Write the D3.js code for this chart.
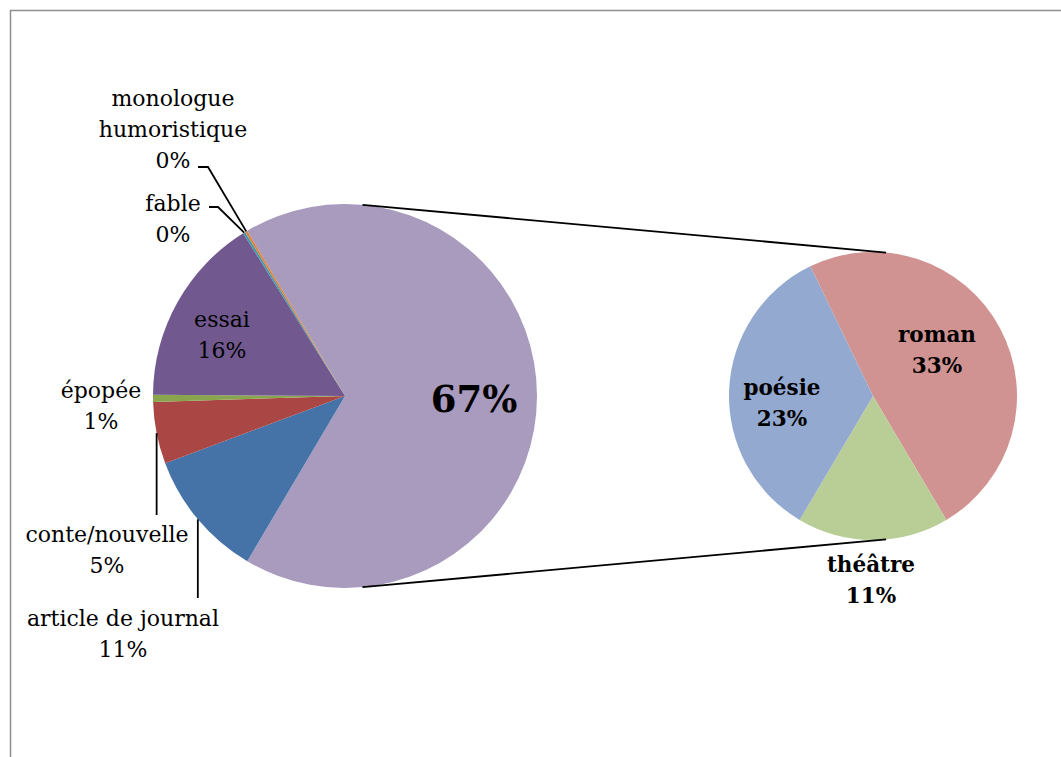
<!DOCTYPE html>
<html>
<head>
<meta charset="utf-8">
<script src="https://cdn.jsdelivr.net/npm/d3@7"></script>
<style>
  html, body { margin: 0; padding: 0; background: #fff; }
  svg { display: block; }
</style>
</head>
<body>
<svg id="chart" width="1061" height="757"></svg>
<script>
// ---- data ----
const mainCategories = ["autres", "article de journal", "conte/nouvelle", "épopée", "essai", "fable", "monologue humoristique"];
const mainValues     = [67.0, 10.8, 5.2, 0.6, 16.0, 0.2, 0.2];
const subCategories  = ["roman", "théâtre", "poésie"];
const subValues      = [32.6, 11.4, 23.0];

// ---- styles / layout ----
const mainColors = ["#A99BBE", "#4572A7", "#AA4643", "#89A54E", "#71588F", "#4198AF", "#DB843D"];
const subColors  = ["#D19392", "#B9CD96", "#93A9CF"];

const W = 1061, H = 757;
const C1 = [345, 396], R1 = 192;
const C2 = [873, 396], R2 = 144;

const svg = d3.select("#chart");
const deg = Math.PI / 180;
const fmt = d3.format(".0%");
const total = d3.sum(mainValues);

// frame
svg.append("rect").attr("x", 10.5).attr("y", 10.5).attr("width", W + 20).attr("height", H + 20)
  .attr("fill", "none").attr("stroke", "#8e8e8e").attr("stroke-width", 1.5);

// main pie: "others" slice centred at 3 o'clock
const mainStart = (90 - (mainValues[0] / total) * 360 / 2) * deg;
const mainPie = d3.pie().sort(null).value(d => d).startAngle(mainStart).endAngle(mainStart + 2 * Math.PI);
const mainArcs = mainPie(mainValues);
const arc1 = d3.arc().innerRadius(0).outerRadius(R1);

const g1 = svg.append("g").attr("transform", `translate(${C1[0]},${C1[1]})`);
g1.selectAll("path").data(mainArcs).join("path")
  .attr("d", arc1).attr("fill", (d, i) => mainColors[i]);

// secondary pie: théâtre centred at 6 o'clock
const subTotal = d3.sum(subValues);
const subStart = (180 - (subValues[1] / subTotal) * 360 / 2 - (subValues[0] / subTotal) * 360) * deg;
const subPie = d3.pie().sort(null).value(d => d).startAngle(subStart).endAngle(subStart + 2 * Math.PI);
const subArcs = subPie(subValues);
const arc2 = d3.arc().innerRadius(0).outerRadius(R2);

const g2 = svg.append("g").attr("transform", `translate(${C2[0]},${C2[1]})`);
g2.selectAll("path").data(subArcs).join("path")
  .attr("d", arc2).attr("fill", (d, i) => subColors[i]);

// connector lines: external tangents of the two circles
const dist = C2[0] - C1[0];
const alpha = Math.asin((R1 - R2) / dist);
[-1, 1].forEach(s => {
  const p1 = [C1[0] + R1 * Math.sin(alpha), C1[1] + s * R1 * Math.cos(alpha)];
  const p2 = [C2[0] + R2 * Math.sin(alpha), C2[1] + s * R2 * Math.cos(alpha)];
  svg.append("line").attr("x1", p1[0]).attr("y1", p1[1]).attr("x2", p2[0]).attr("y2", p2[1])
    .attr("stroke", "#000").attr("stroke-width", 1.8);
});

// point on main circle at slice mid angle
function edgePoint(a) {
  const m = (a.startAngle + a.endAngle) / 2;
  return [C1[0] + R1 * Math.sin(m), C1[1] - R1 * Math.cos(m)];
}

// label layout (positions only)
const mainLabelLayout = [
  { x: 474, y: 412, bold: true, size: 37, lines: 1 },
  { x: 123, y: 626, leader: [[null, 598]] },
  { x: 107, y: 542, leader: [[null, 515]] },
  { x: 101, y: 398 },
  { x: 222, y: 327 },
  { x: 173, y: 211, leader: [[218, 207], [209, 207]] },
  { x: 173, y: 106, leader: [[208, 167], [198, 167]] }
];
const subLabelLayout = [
  { x: 937, y: 342 },
  { x: 871, y: 572 },
  { x: 782, y: 395 }
];

const fontFam = "'DejaVu Serif', serif";
const lineH = 31;

function drawLabel(layout, name, value, bold, size) {
  const t = svg.append("text")
    .attr("font-family", fontFam)
    .attr("font-size", size)
    .attr("font-weight", bold ? "bold" : "normal")
    .attr("text-anchor", "middle")
    .attr("fill", "#000");
  const lines = [];
  if (name) name.split("\n").forEach(l => lines.push(l));
  lines.push(fmt(value / total));
  lines.forEach((l, i) => {
    t.append("tspan").attr("x", layout.x).attr("y", layout.y + i * lineH).text(l);
  });
}

const displayNames = ["", "article de journal", "conte/nouvelle", "épopée", "essai", "fable", "monologue\nhumoristique"];

mainArcs.forEach((a, i) => {
  const L = mainLabelLayout[i];
  if (i === 0) {
    drawLabel(L, null, mainValues[i], true, L.size);
  } else {
    drawLabel(L, displayNames[i], mainValues[i], false, 22);
  }
  if (L.leader) {
    const p = edgePoint(a);
    const pts = [p].concat(L.leader.map(q => [q[0] === null ? p[0] : q[0], q[1]]));
    svg.append("path").attr("d", d3.line()(pts))
      .attr("fill", "none").attr("stroke", "#000").attr("stroke-width", 1.8);
  }
});

subArcs.forEach((a, i) => {
  drawLabel(subLabelLayout[i], subCategories[i], subValues[i], true, 21.5);
});
</script>
</body>
</html>
